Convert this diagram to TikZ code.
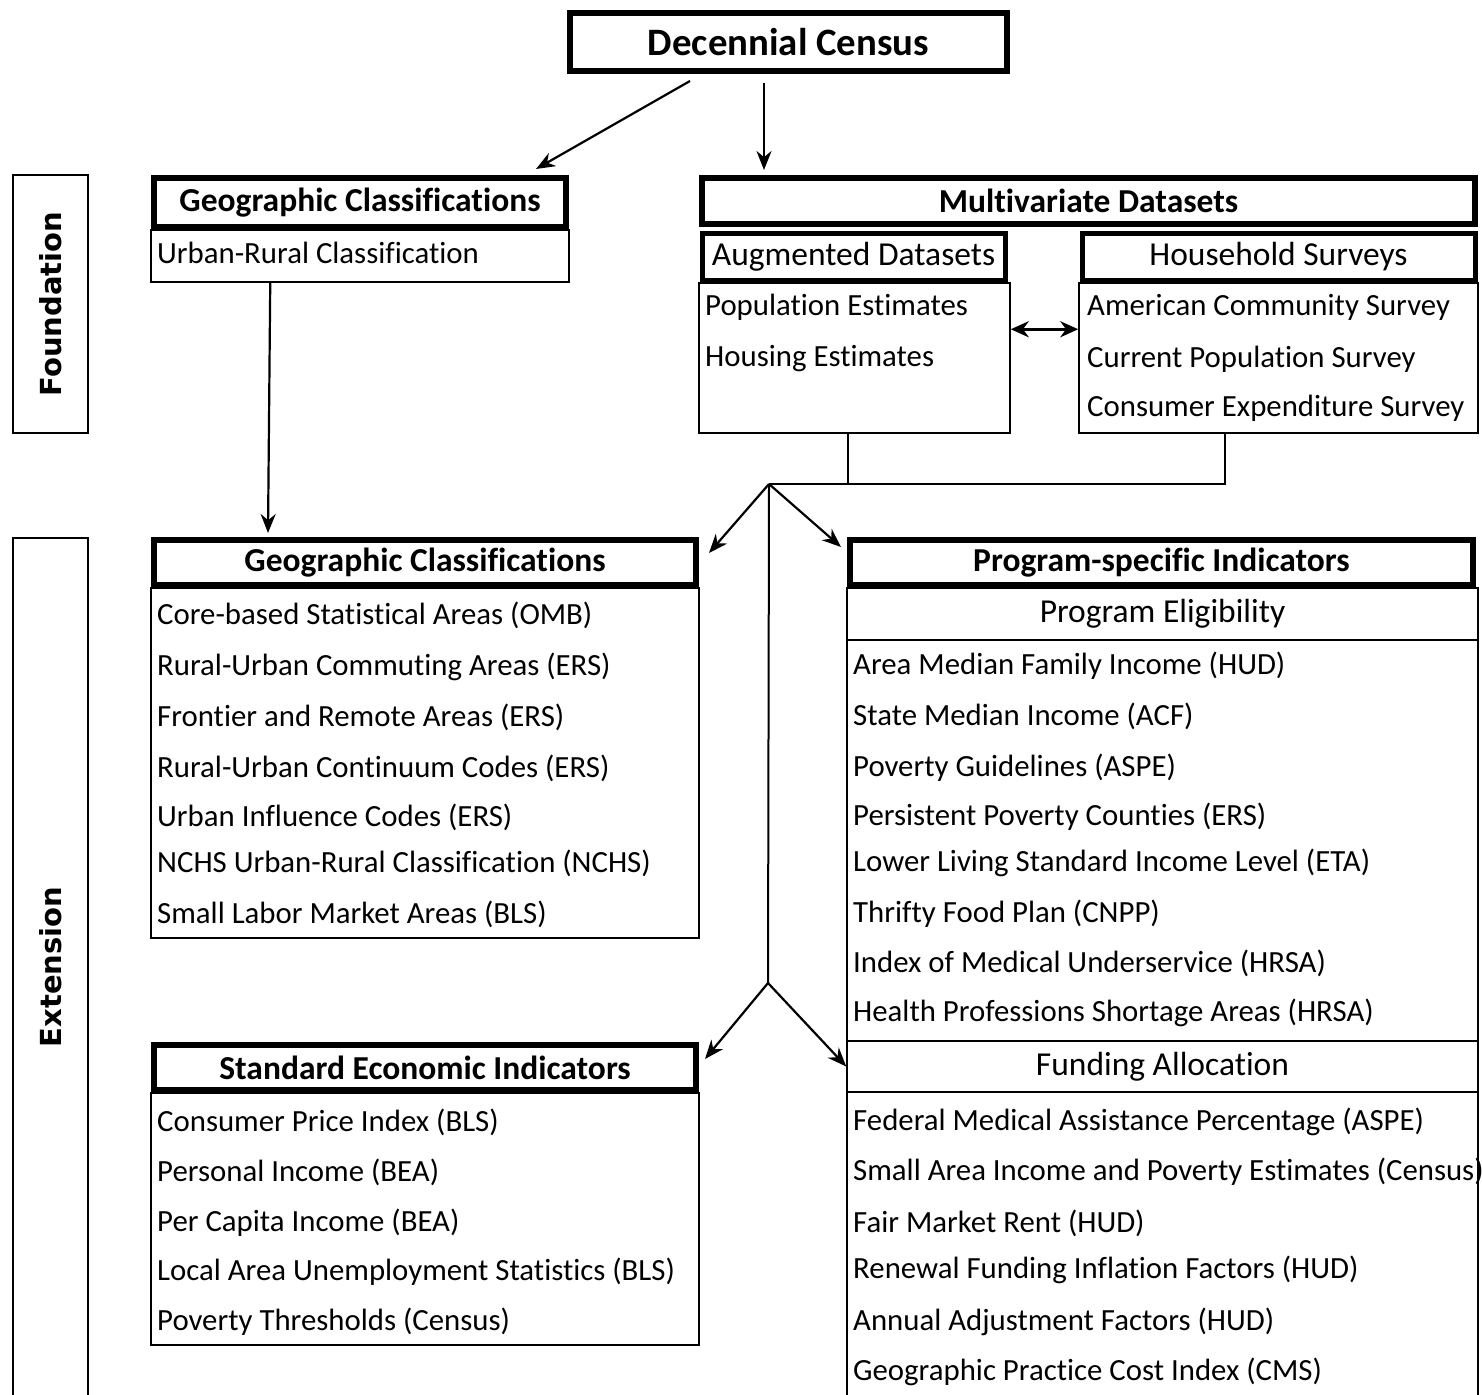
\documentclass[tikz,border=0pt]{standalone}
\usepackage{fontspec}
\setmainfont{Carlito}[Ligatures=NoCommon]
\newfontfamily\sidefont{DejaVu Sans}
\usetikzlibrary{calc, positioning, arrows.meta}

\begin{document}
\begin{tikzpicture}[
		x=1pt, y=-1pt,
		head/.style={draw, line width=6pt, inner sep=0pt, font=\fontsize{33.5}{38}\selectfont\bfseries},
		subhead/.style={draw, line width=5pt, inner sep=0pt, font=\fontsize{33.5}{38}\selectfont},
		band/.style={draw, line width=1.5pt, inner sep=0pt, font=\fontsize{33.5}{38}\selectfont},
		body/.style={draw, line width=1.5pt, inner sep=0pt},
		item/.style={anchor=west, inner sep=0pt, font=\fontsize{30.8}{36}\selectfont},
		side/.style={draw, line width=1.5pt, inner sep=0pt, rotate=90, minimum height=75pt, font=\sidefont\fontsize{29}{34}\selectfont\bfseries},
		link/.style={line width=2pt},
		arrow/.style={-{Stealth[length=19pt, width=15pt]}, line width=2.2pt},
		both/.style={{Stealth[length=18pt, width=16pt]}-{Stealth[length=18pt, width=16pt]}, line width=3.5pt}
		]
		\useasboundingbox (0,0) rectangle (1482,1394);
		
		% 1. Top of the tree
		\node[head, font=\fontsize{38.8}{44}\selectfont\bfseries, minimum width=437pt, minimum height=58pt] (census) at (788.5,42) {Decennial Census};
		
		% Side labels
		\node[side, minimum width=258pt] (found) at (50.5,304) {Foundation};
		\node[side, minimum width=858pt] (ext) at (50.5,967) {Extension};
		
		% 2. Foundation: geographic classifications
		\node[head, minimum width=412pt, minimum height=49pt] (geoA) at (360,202.5) {Geographic Classifications};
		\node[body, minimum width=418pt, minimum height=52pt] (geoAbody) at (360,256) {};
		\node[item] (urc) at (157,253) {Urban-Rural Classification};
		
		% 3. Foundation: multivariate datasets
		\node[head, minimum width=773pt, minimum height=46pt] (multi) at (1088.5,201) {Multivariate Datasets};
		\node[subhead, minimum width=303pt, minimum height=47pt] (aug) at (853.5,256.5) {Augmented Datasets};
		\node[body, minimum width=311pt, minimum height=150pt] (augbody) at (854.5,358) {};
		\node[item] (popest) at (705,307) {Population Estimates};
		\node[item] (housest) at (705,359) {Housing Estimates};
		
		\node[subhead, minimum width=393pt, minimum height=47pt] (hh) at (1278.5,256.5) {Household Surveys};
		\node[body, minimum width=399pt, minimum height=150pt] (hhbody) at (1278.5,358) {};
		\node[item] (acs) at (1087,307) {American Community Survey};
		\node[item] (cps) at (1087,359) {Current Population Survey};
		\node[item] (ces) at (1087,408) {Consumer Expenditure Survey};
		
		% 4. Extension: geographic classifications
		\node[head, minimum width=542pt, minimum height=45pt] (geoB) at (425,562.5) {Geographic Classifications};
		\node[body, minimum width=548pt, minimum height=350pt] (geoBbody) at (425,763) {};
		\node[item] (cbsa) at (157,615) {Core-based Statistical Areas (OMB)};
		\node[item] (ruca) at (157,667) {Rural-Urban Commuting Areas (ERS)};
		\node[item] (fra) at (157,717) {Frontier and Remote Areas (ERS)};
		\node[item] (rucc) at (157,768) {Rural-Urban Continuum Codes (ERS)};
		\node[item] (uic) at (157,817) {Urban Influence Codes (ERS)};
		\node[item] (nchs) at (157,863) {NCHS Urban-Rural Classification (NCHS)};
		\node[item] (slma) at (157,914) {Small Labor Market Areas (BLS)};
		
		% 5. Extension: standard economic indicators
		\node[head, minimum width=542pt, minimum height=45pt] (econ) at (425,1067.5) {Standard Economic Indicators};
		\node[body, minimum width=548pt, minimum height=252pt] (econbody) at (425,1219) {};
		\node[item] (cpi) at (157,1122) {Consumer Price Index (BLS)};
		\node[item] (pinc) at (157,1172) {Personal Income (BEA)};
		\node[item] (pcinc) at (157,1223) {Per Capita Income (BEA)};
		\node[item] (laus) at (157,1272) {Local Area Unemployment Statistics (BLS)};
		\node[item] (povthr) at (157,1322) {Poverty Thresholds (Census)};
		
		% 6. Extension: program-specific indicators
		\node[head, minimum width=623pt, minimum height=45pt] (prog) at (1161.5,562.5) {Program-specific Indicators};
		\node[body, minimum width=631pt, minimum height=808pt] (progbody) at (1162.5,992) {};
		\node[band, minimum width=631pt, minimum height=52pt] (elig) at (1162.5,614) {Program Eligibility};
		\node[item] (amfi) at (853,666) {Area Median Family Income (HUD)};
		\node[item] (smi) at (853,716) {State Median Income (ACF)};
		\node[item] (povg) at (853,768) {Poverty Guidelines (ASPE)};
		\node[item] (ppc) at (853,817) {Persistent Poverty Counties (ERS)};
		\node[item] (llsil) at (853,863) {Lower Living Standard Income Level (ETA)};
		\node[item] (tfp) at (853,914) {Thrifty Food Plan (CNPP)};
		\node[item] (imu) at (853,963) {Index of Medical Underservice (HRSA)};
		\node[item] (hpsa) at (853,1013) {Health Professions Shortage Areas (HRSA)};
		\node[band, minimum width=631pt, minimum height=51pt] (fund) at (1162.5,1066.5) {Funding Allocation};
		\node[item] (fmap) at (853,1122) {Federal Medical Assistance Percentage (ASPE)};
		\node[item] (saipe) at (853,1172) {Small Area Income and Poverty Estimates (Census)};
		\node[item] (fmr) at (853,1223) {Fair Market Rent (HUD)};
		\node[item] (rfif) at (853,1270) {Renewal Funding Inflation Factors (HUD)};
		\node[item] (aaf) at (853,1322) {Annual Adjustment Factors (HUD)};
		\node[item] (gpci) at (853,1372) {Geographic Practice Cost Index (CMS)};
		
		% Connections
		\coordinate (fork) at (769,484);
		\coordinate (fork2) at (768,983);
		
		\draw[arrow] ($(census.south west)+(123,7)$) -- ($(geoA.north east)+(-33,-6)$);
		\draw[arrow] ($(census.south west)+(197,9)$) -- ($(multi.north west)+(65,-5)$);
		\draw[arrow] ($(geoAbody.south west)+(120,0)$) -- ($(geoB.north west)+(117,-4)$);
		\draw[both] ($(augbody.north east)+(0,47)$) -- ($(hhbody.north west)+(0,47)$);
		
		\draw[link] ($(augbody.south west)+(150,0)$) |- (fork);
		\draw[link] ($(hhbody.south west)+(147,0)$) |- (fork);
		\draw[arrow] (fork) -- ($(geoB.north east)+(10,16)$);
		\draw[arrow] (fork) -- ($(prog.north west)+(-6,10)$);
		\draw[link] (fork) -- (fork2);
		\draw[arrow] (fork2) -- ($(econ.north east)+(6,17)$);
		\draw[arrow] (fork2) -- (fund.west);
		
	\end{tikzpicture}
\end{document}
